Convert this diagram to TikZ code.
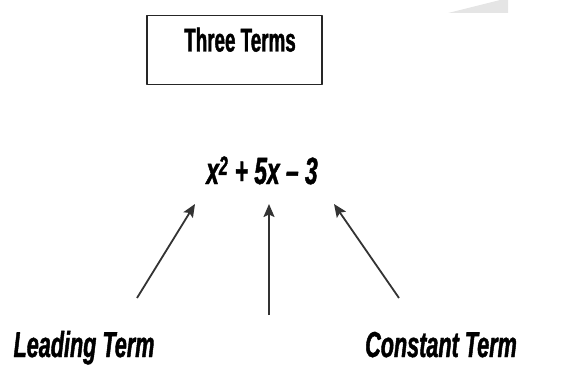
\documentclass[tikz,border=0pt]{standalone}
\usepackage{fontspec}
\usetikzlibrary{arrows.meta}
\newfontfamily\narrowfont[FakeStretch=0.57,FakeBold=1.2]{Liberation Sans}
\newfontfamily\labelfont[FakeStretch=0.6,FakeBold=1.2]{Liberation Sans}
\tikzset{
  boxtitle/.style={draw=black!85,line width=1.3pt,minimum width=175pt,inner xsep=0pt,inner ysep=0pt,
    text height=36pt,text depth=33pt,font=\narrowfont\bfseries\fontsize{33}{35}\selectfont},
  termlabel/.style={anchor=base,font=\labelfont\bfseries\itshape\fontsize{36}{38}\selectfont},
  pointer/.style={draw=black!80,line width=1.8pt,-{Stealth[length=13pt,width=11pt,inset=2.5pt]}}
}
\begin{document}
\begin{tikzpicture}[x=1pt,y=-1pt,line join=round]
  \useasboundingbox (0,0) rectangle (576,369);
  % faint smudge top right
  \fill[black!10] (448,13) -- (500,0) -- (508,0) -- (508,13) -- cycle;
  \node[boxtitle] (title) at (234.5,50) {\hspace*{11pt}Three Terms};
  \node[termlabel,font=\labelfont\bfseries\itshape\fontsize{38}{40}\selectfont] (expr) at (262,184) {x\textsuperscript{2} + 5x \char"2013{} 3};
  \node[termlabel] (lead) at (84,357) {Leading Term};
  \node[termlabel] (const) at (441,357) {Constant Term};
  % arrow ends
  \coordinate (leadtail) at (137,298);
  \coordinate (leadhead) at (195,204);
  \coordinate (midtail) at (269,315);
  \coordinate (midhead) at (269,204);
  \coordinate (consttail) at (399,298);
  \coordinate (consthead) at (334,204);
  \draw[pointer] (leadtail) -- (leadhead);
  \draw[pointer] (midtail) -- (midhead);
  \draw[pointer] (consttail) -- (consthead);
\end{tikzpicture}
\end{document}
